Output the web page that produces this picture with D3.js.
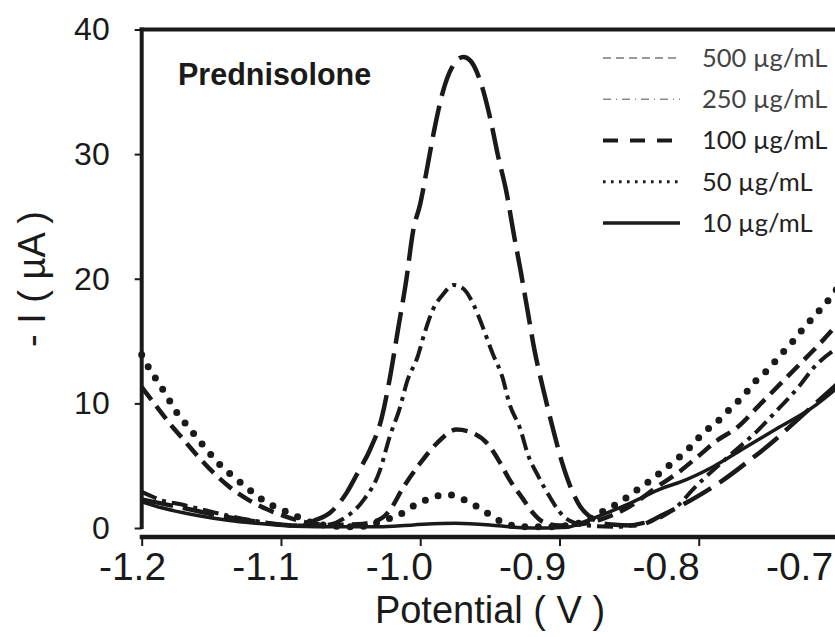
<!DOCTYPE html>
<html>
<head>
<meta charset="utf-8">
<script src="https://cdn.jsdelivr.net/npm/d3@7"></script>
<style>
  body { margin: 0; background: #fff; }
  svg { display: block; }
</style>
</head>
<body>
<div id="chart"></div>
<script>
// values: [potential (V), -I (uA)]
const c500 = [[-1.2, 2.3], [-1.17, 1.6], [-1.14, 0.9], [-1.11, 0.4], [-1.09, 0.2], [-1.076, 0.6],
  [-1.065, 1.2], [-1.053, 2.8], [-1.045, 4.4], [-1.036, 6.3], [-1.028, 8.7], [-1.022, 11.9],
  [-1.016, 15.9], [-1.010, 19.9], [-1.005, 23.9], [-1.0, 26.0], [-0.995, 28.9], [-0.990, 31.9],
  [-0.984, 34.9], [-0.977, 37.0], [-0.969, 37.8], [-0.964, 37.5], [-0.957, 35.9], [-0.950, 33.0],
  [-0.944, 29.8], [-0.938, 26.9], [-0.933, 23.7], [-0.928, 20.7], [-0.923, 17.5], [-0.918, 14.3],
  [-0.912, 11.3], [-0.905, 8.1], [-0.898, 5.2], [-0.891, 3.0], [-0.885, 1.7], [-0.878, 0.9],
  [-0.865, 0.3], [-0.845, 0.2], [-0.825, 1.1], [-0.80, 2.6], [-0.783, 3.8], [-0.765, 5.3],
  [-0.747, 6.9], [-0.729, 8.7], [-0.70, 11.6]];

const c250 = [[-1.2, 2.9], [-1.194, 2.6], [-1.185, 2.2], [-1.172, 1.9], [-1.15, 1.3], [-1.12, 0.6],
  [-1.09, 0.2], [-1.07, 0.2], [-1.053, 0.9], [-1.041, 2.2], [-1.029, 4.6], [-1.022, 7.3],
  [-1.015, 9.5], [-1.009, 11.9], [-1.002, 13.7], [-0.997, 15.6], [-0.991, 17.5], [-0.984, 18.7],
  [-0.976, 19.5], [-0.969, 19.2], [-0.962, 18.0], [-0.955, 16.1], [-0.948, 14.0], [-0.941, 12.1],
  [-0.936, 10.0], [-0.928, 7.9], [-0.923, 6.0], [-0.915, 4.1], [-0.907, 2.5], [-0.900, 1.3],
  [-0.893, 0.6], [-0.88, 0.2], [-0.86, 0.1], [-0.84, 0.4], [-0.825, 1.0], [-0.813, 2.0],
  [-0.805, 3.0], [-0.795, 4.1], [-0.78, 5.6], [-0.757, 7.9], [-0.745, 9.3], [-0.727, 11.5],
  [-0.718, 12.8], [-0.70, 14.5]];

const c100 = [[-1.2, 11.3], [-1.189, 9.7], [-1.18, 8.4], [-1.17, 7.1], [-1.16, 5.8], [-1.149, 4.5],
  [-1.137, 3.3], [-1.124, 2.3], [-1.11, 1.5], [-1.096, 0.9], [-1.084, 0.5], [-1.065, 0.25],
  [-1.045, 0.3], [-1.029, 0.7], [-1.022, 1.4], [-1.0125, 3.2], [-1.0, 5.2], [-0.988, 6.8],
  [-0.974, 7.9], [-0.964, 7.7], [-0.952, 6.8], [-0.943, 5.3], [-0.936, 3.9], [-0.926, 2.3],
  [-0.919, 1.2], [-0.912, 0.5], [-0.90, 0.2], [-0.885, 0.3], [-0.87, 0.7], [-0.85, 1.7],
  [-0.83, 3.3], [-0.813, 4.6], [-0.801, 5.7], [-0.787, 7.0], [-0.772, 8.1], [-0.757, 9.8],
  [-0.742, 11.5], [-0.727, 13.2], [-0.713, 14.8], [-0.70, 16.4]];

const c50 = [[-1.2, 13.9], [-1.193, 12.5], [-1.187, 11.5], [-1.181, 10.4], [-1.175, 9.3], [-1.168, 8.3],
  [-1.16, 7.2], [-1.152, 6.1], [-1.144, 5.1], [-1.134, 4.1], [-1.124, 3.2], [-1.115, 2.4],
  [-1.106, 1.8], [-1.096, 1.3], [-1.086, 0.8], [-1.077, 0.4], [-1.06, 0.15], [-1.045, 0.1],
  [-1.035, 0.3], [-1.027, 0.6], [-1.016, 1.0], [-1.006, 1.7], [-0.997, 2.2], [-0.987, 2.6],
  [-0.978, 2.65], [-0.969, 2.3], [-0.959, 1.7], [-0.949, 1.0], [-0.94, 0.4], [-0.925, 0.1],
  [-0.905, 0.1], [-0.89, 0.3], [-0.88, 0.6], [-0.873, 1.1], [-0.864, 1.6], [-0.855, 2.2],
  [-0.845, 3.0], [-0.835, 3.8], [-0.826, 4.6], [-0.816, 5.5], [-0.806, 6.5], [-0.797, 7.6],
  [-0.787, 8.5], [-0.778, 9.5], [-0.768, 10.6], [-0.76, 11.7], [-0.75, 12.75], [-0.742, 13.8],
  [-0.733, 14.9], [-0.725, 16.0], [-0.717, 17.0], [-0.709, 18.0], [-0.70, 19.3]];

const c10 = [[-1.2, 2.1], [-1.185, 1.6], [-1.16, 1.0], [-1.137, 0.6], [-1.12, 0.4], [-1.09, 0.15],
  [-1.06, 0.1], [-1.03, 0.1], [-1.005, 0.25], [-0.975, 0.38], [-0.95, 0.25], [-0.93, 0.05],
  [-0.91, 0.0], [-0.895, 0.05], [-0.885, 0.4], [-0.873, 0.9], [-0.849, 2.0], [-0.826, 3.2],
  [-0.813, 3.7], [-0.79, 4.9], [-0.766, 6.5], [-0.742, 8.1], [-0.718, 9.7], [-0.70, 11.3]];

const legendLabels = ["500 µg/mL", "250 µg/mL", "100 µg/mL", "50 µg/mL", "10 µg/mL"];
const xTicks = [-1.2, -1.1, -1.0, -0.9, -0.8, -0.7];
const yTicks = [0, 10, 20, 30, 40];

const width = 835, height = 637;
const ink = "#1a1a1a";
const font = "'Liberation Sans', Arial, sans-serif";

const svg = d3.select("#chart").append("svg")
  .attr("width", width)
  .attr("height", height);

const x = d3.scaleLinear().domain([-1.2, -0.7]).range([141.7, 838]);
const y = d3.scaleLinear().domain([0, 40]).range([528, 29.5]);
// tick labels in the figure sit on a slightly tighter spacing than the ticks
const xLab = d3.scaleLinear().domain([-1.2, -0.7]).range([132.5, 799.5]);
const baseY = 537;

// curves
const series = [
  { data: c500, width: 4.5, dash: "32,10", cap: "butt" },
  { data: c250, width: 4, dash: "16,6,4,6", cap: "butt" },
  { data: c100, width: 4.5, dash: "16,8", cap: "butt" },
  { data: c50, width: 7, dash: "0,13.5", cap: "round" },
  { data: c10, width: 3.5, dash: null, cap: "butt" }
];

const line = d3.line()
  .x(d => x(d[0]))
  .y(d => y(d[1]))
  .curve(d3.curveMonotoneX);

svg.append("g")
  .selectAll("path")
  .data(series)
  .join("path")
  .attr("d", d => line(d.data))
  .attr("fill", "none")
  .attr("stroke", ink)
  .attr("stroke-width", d => d.width)
  .attr("stroke-dasharray", d => d.dash)
  .attr("stroke-linecap", d => d.cap);

// left axis
const yAxis = svg.append("g")
  .attr("transform", `translate(${x(-1.2)},0)`)
  .call(d3.axisLeft(y).tickValues(yTicks).tickSize(7).tickPadding(25));
yAxis.select(".domain").remove();
yAxis.selectAll(".tick line").attr("stroke", ink).attr("stroke-width", 2);
yAxis.selectAll(".tick text")
  .attr("font-family", font)
  .attr("font-size", 32)
  .attr("fill", ink);
svg.append("line")
  .attr("x1", x(-1.2)).attr("x2", x(-1.2))
  .attr("y1", y(40) - 2).attr("y2", y(0) + 1)
  .attr("stroke", ink).attr("stroke-width", 4);

// top frame
svg.append("line")
  .attr("x1", x(-1.2) - 2).attr("x2", width)
  .attr("y1", y(40)).attr("y2", y(40))
  .attr("stroke", ink).attr("stroke-width", 4);

// bottom axis
const xAxis = svg.append("g")
  .attr("transform", `translate(0,${baseY})`)
  .call(d3.axisBottom(x).tickValues(xTicks).tickSize(9).tickFormat(""));
xAxis.select(".domain").remove();
xAxis.selectAll(".tick line").attr("stroke", ink).attr("stroke-width", 2);
svg.append("line")
  .attr("x1", x(-1.2) - 2).attr("x2", width)
  .attr("y1", baseY).attr("y2", baseY)
  .attr("stroke", ink).attr("stroke-width", 4.5);

svg.append("g")
  .selectAll("text")
  .data(xTicks)
  .join("text")
  .attr("x", d => xLab(d))
  .attr("y", 580)
  .attr("text-anchor", "middle")
  .attr("font-family", font)
  .attr("font-size", 39)
  .attr("fill", ink)
  .text(d => d.toFixed(1));

// axis titles
svg.append("text")
  .attr("x", 490)
  .attr("y", 623)
  .attr("text-anchor", "middle")
  .attr("font-family", font)
  .attr("font-size", 38)
  .attr("fill", ink)
  .text("Potential ( V )");

svg.append("text")
  .attr("transform", "translate(45,279) rotate(-90)")
  .attr("text-anchor", "middle")
  .attr("font-family", font)
  .attr("font-size", 38)
  .attr("fill", ink)
  .text("- I ( µA )");

svg.append("text")
  .attr("x", 178)
  .attr("y", 85)
  .attr("font-family", font)
  .attr("font-size", 30.5)
  .attr("font-weight", "bold")
  .attr("fill", ink)
  .text("Prednisolone");

// legend (styles as drawn in the figure's key)
const legendStyle = [
  { color: "#7a7a7a", width: 1.6, dash: "8,5", cap: "butt" },
  { color: "#8a8a8a", width: 1.6, dash: "8,5,1,5", cap: "butt" },
  { color: ink, width: 4, dash: "15,12", cap: "butt" },
  { color: ink, width: 2.8, dash: "2.6,5.4", cap: "butt" },
  { color: ink, width: 3.5, dash: null, cap: "butt" }
];
const ly = d3.scalePoint().domain(legendLabels).range([58, 223]);

const legend = svg.append("g")
  .selectAll("g")
  .data(legendLabels)
  .join("g")
  .attr("transform", d => `translate(0,${ly(d)})`);

legend.append("line")
  .attr("x1", 603).attr("x2", 680)
  .attr("stroke", (d, i) => legendStyle[i].color)
  .attr("stroke-width", (d, i) => legendStyle[i].width)
  .attr("stroke-dasharray", (d, i) => legendStyle[i].dash);

legend.append("text")
  .attr("x", 702)
  .attr("dy", "0.35em")
  .attr("font-family", "Lato, 'Open Sans', sans-serif")
  .attr("font-size", 25.5)
  .attr("fill", (d, i) => i < 2 ? "#444" : "#222")
  .text(d => d);
</script>
</body>
</html>
